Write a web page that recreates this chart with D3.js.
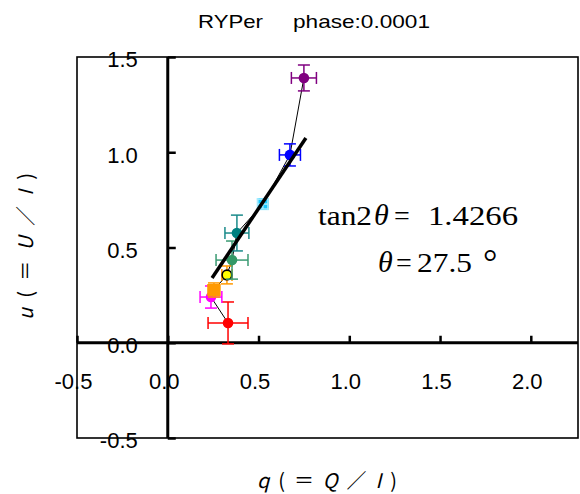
<!DOCTYPE html>
<html><head><meta charset="utf-8">
<script src="https://cdn.jsdelivr.net/npm/d3@7"></script>
<style>body{margin:0;background:#fff}</style>
</head><body>
<script>
// ---- data ----
const pointNames = ["red","magenta","orange","yellow","seagreen","teal","cyan","blue","purple"];
const qValues = [0.332, 0.238, 0.2545, 0.326, 0.354, 0.381, 0.524, 0.673, 0.750];
const uValues = [0.104, 0.240, 0.277, 0.356, 0.434, 0.576, 0.728, 0.986, 1.390];
const qErrors = [0.11, 0.06, 0.033, 0.028, 0.088, 0.066, 0.028, 0.058, 0.069];
const uErrors = [0.11, 0.058, 0.037, 0.047, 0.10, 0.094, 0.026, 0.058, 0.068];
const pointColors = ["#ff0000","#ff00ff","#ff9900","#ffff00","#339966","#008080","#19c8ff","#0000ff","#800080"];
const barColors = ["#ff0000","#ff00ff","#ff9900","#ff9900","#3a9a72","#1a8a8a","#a8ecff","#0000ff","#800080"];
const markerShapes = ["circle","circle","square","circle","circle","circle","square","circle","circle"];
const fitQ = [0.244, 0.761];
const fitU = [0.340, 1.075];
const xTicks = [-0.5, 0.0, 0.5, 1.0, 1.5, 2.0];
const yTicks = [-0.5, 0.0, 0.5, 1.0, 1.5];
const titleLeft = "RYPer", titleRight = "phase:0.0001";
const tanText = "1.4266", thetaText = "27.5";

const W = 580, H = 494;
const svg = d3.select("body").append("svg").attr("width", W).attr("height", H)
  .style("font-family", "'Liberation Sans', Arial, sans-serif");

const x = d3.scaleLinear().domain([-0.5, 2.26]).range([77, 578]);
const y = d3.scaleLinear().domain([-0.5, 1.5]).range([438, 57]);

// plot border
svg.append("rect").attr("x", 77).attr("y", 57).attr("width", 501).attr("height", 381)
  .attr("fill", "none").attr("stroke", "#000").attr("stroke-width", 1.6);

// x axis (ticks upward)
const xAxis = svg.append("g").attr("transform", `translate(0,${y(0)})`)
  .call(d3.axisBottom(x).tickValues(xTicks).tickSize(-7).tickPadding(31).tickFormat(d => d.toFixed(1)));
xAxis.select(".domain").remove();
xAxis.selectAll(".tick line").attr("stroke-width", 2.5);
xAxis.selectAll(".tick text").attr("font-size", 22).attr("dx", -4).attr("font-family", "'Liberation Sans', Arial, sans-serif").attr("fill", "#000");

// y axis (ticks right)
const yAxis = svg.append("g").attr("transform", `translate(${x(0)},0)`)
  .call(d3.axisLeft(y).tickValues(yTicks).tickSize(-8).tickPadding(30).tickFormat(d => d.toFixed(1)));
yAxis.select(".domain").remove();
yAxis.selectAll(".tick line").attr("stroke-width", 2.5);
yAxis.selectAll(".tick text").attr("font-size", 22).attr("dy", "0.45em").attr("font-family", "'Liberation Sans', Arial, sans-serif").attr("fill", "#000");

// thick axis lines
svg.append("line").attr("x1", x(0)).attr("x2", x(0)).attr("y1", y(1.5)).attr("y2", y(-0.5))
  .attr("stroke", "#000").attr("stroke-width", 3);
svg.append("line").attr("x1", x(-0.5)).attr("x2", x(2.26)).attr("y1", y(0)).attr("y2", y(0))
  .attr("stroke", "#000").attr("stroke-width", 3);

// data
const data = pointNames.map((n, i) => ({n, q: qValues[i], u: uValues[i], eq: qErrors[i], eu: uErrors[i],
  c: pointColors[i], bc: barColors[i], shape: markerShapes[i]}));

// connecting line
svg.append("path").datum(data)
  .attr("d", d3.line().x(d => x(d.q)).y(d => y(d.u)))
  .attr("fill", "none").attr("stroke", "#000").attr("stroke-width", 1);

const cap = 6;
const g = svg.append("g");
data.forEach(d => {
  const px = x(d.q), py = y(d.u);
  const gg = g.append("g");
  const drawBars = () => {
    const s = gg.append("g").attr("stroke", d.bc).attr("stroke-width", 1.5).attr("fill", "none");
    s.append("line").attr("x1", x(d.q - d.eq)).attr("x2", x(d.q + d.eq)).attr("y1", py).attr("y2", py);
    s.append("line").attr("x1", px).attr("x2", px).attr("y1", y(d.u - d.eu)).attr("y2", y(d.u + d.eu));
    s.append("line").attr("x1", x(d.q - d.eq)).attr("x2", x(d.q - d.eq)).attr("y1", py - cap).attr("y2", py + cap);
    s.append("line").attr("x1", x(d.q + d.eq)).attr("x2", x(d.q + d.eq)).attr("y1", py - cap).attr("y2", py + cap);
    s.append("line").attr("x1", px - cap).attr("x2", px + cap).attr("y1", y(d.u - d.eu)).attr("y2", y(d.u - d.eu));
    s.append("line").attr("x1", px - cap).attr("x2", px + cap).attr("y1", y(d.u + d.eu)).attr("y2", y(d.u + d.eu));
  };
  if (d.shape === "square") {
    gg.append("rect").attr("x", px - 6).attr("y", py - 6).attr("width", 12).attr("height", 12).attr("fill", d.c);
    drawBars();
  } else {
    drawBars();
    const c = gg.append("circle").attr("cx", px).attr("cy", py).attr("r", d.n === "yellow" ? 4.8 : 5.3).attr("fill", d.c);
    if (d.n === "yellow") c.attr("stroke", "#000").attr("stroke-width", 1.6);
  }
});

// fit line
svg.append("line").attr("x1", x(fitQ[0])).attr("y1", y(fitU[0])).attr("x2", x(fitQ[1])).attr("y2", y(fitU[1]))
  .attr("stroke", "#000").attr("stroke-width", 3.5);

// title
svg.append("text").attr("x", 198).attr("y", 28).attr("font-size", 18.5).attr("textLength", 65)
  .attr("lengthAdjust", "spacingAndGlyphs").text(titleLeft);
svg.append("text").attr("x", 293).attr("y", 28).attr("font-size", 18.5).attr("textLength", 137)
  .attr("lengthAdjust", "spacingAndGlyphs").text(titleRight);

// axis labels
const xl = svg.append("text").attr("x", 257).attr("y", 488).attr("font-size", 20)
  .attr("textLength", 140).attr("lengthAdjust", "spacing");
xl.append("tspan").attr("font-style", "italic").text("q");
xl.append("tspan").text("(＝");
xl.append("tspan").attr("font-style", "italic").text("Q");
xl.append("tspan").text("／");
xl.append("tspan").attr("font-style", "italic").text("I");
xl.append("tspan").text(")");
xl.style("font-family", "'Noto Sans CJK JP', sans-serif");

const yl = svg.append("text").attr("transform", "translate(33,320) rotate(-90)").attr("font-size", 20)
  .attr("textLength", 147).attr("lengthAdjust", "spacing").style("font-family", "'Noto Sans CJK JP', sans-serif");
yl.append("tspan").attr("font-style", "italic").text("u");
yl.append("tspan").text("(＝");
yl.append("tspan").attr("font-style", "italic").text("U");
yl.append("tspan").text("／");
yl.append("tspan").attr("font-style", "italic").text("I");
yl.append("tspan").text(")");

// annotation
const serif = "'Liberation Serif', 'Times New Roman', serif";
const ann = svg.append("g").style("font-family", serif).attr("font-size", 28);
ann.append("text").attr("x", 318).attr("y", 225).attr("textLength", 54).attr("lengthAdjust", "spacingAndGlyphs").text("tan2");
ann.append("text").attr("x", 374).attr("y", 225).attr("font-style", "italic").attr("font-size", 30).text("θ");
ann.append("text").attr("x", 394).attr("y", 225).text("=");
ann.append("text").attr("x", 428).attr("y", 225).attr("textLength", 90).attr("lengthAdjust", "spacingAndGlyphs").text(tanText);
ann.append("text").attr("x", 378).attr("y", 272).attr("font-style", "italic").attr("font-size", 30).text("θ");
ann.append("text").attr("x", 396).attr("y", 272).text("=");
ann.append("text").attr("x", 417).attr("y", 272).attr("textLength", 55).attr("lengthAdjust", "spacingAndGlyphs").text(thetaText);
ann.append("text").attr("x", 483).attr("y", 274).attr("font-size", 36).text("°");
</script>
</body></html>
